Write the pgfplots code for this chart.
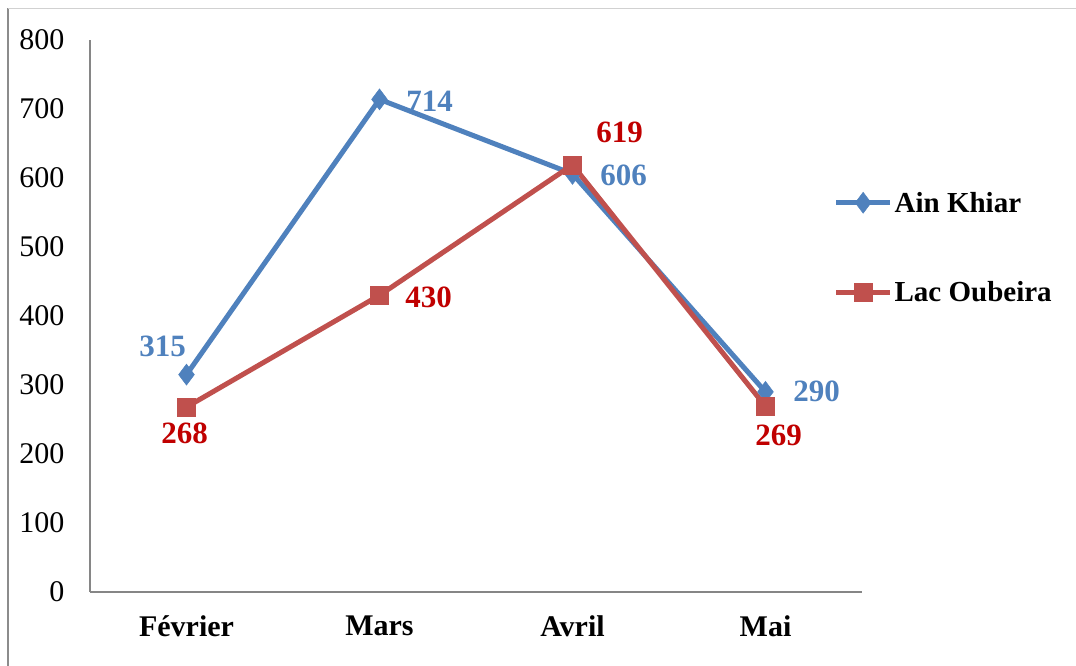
\documentclass[border=0pt]{standalone}
\usepackage{pgfplots}
\pgfplotsset{compat=1.18}
\usepackage{fontspec}
\setmainfont{Liberation Serif}
\definecolor{cblue}{HTML}{4F81BD}
\definecolor{cred}{HTML}{C0504D}
\definecolor{lred}{HTML}{C00000}
\definecolor{axgray}{HTML}{868686}
\begin{document}
\begin{tikzpicture}
\useasboundingbox (0pt,0pt) rectangle (1076pt,666pt);
\draw[color=black!45, line width=1.5pt] (8pt,0pt) -- (8pt,657.5pt);
\draw[color=black!18, line width=1pt] (8pt,657.5pt) -- (1076pt,657.5pt);
\begin{axis}[
  at={(90pt,74pt)}, anchor=south west,
  width=772pt, height=552pt, scale only axis,
  xmin=-0.5, xmax=3.5, ymin=0, ymax=800,
  axis lines=left,
  axis line style={color=axgray, line width=1.5pt, -},
  xtick={0,1,2,3},
  xticklabels={Février,Mars,Avril,Mai},
  ytick={0,100,...,800},
  major tick length=0pt,
  /pgf/number format/assume math mode=true,
  yticklabel style={font=\fontsize{30}{34}\selectfont, xshift=-22pt},
  xticklabel style={font=\fontsize{30}{34}\selectfont\bfseries, yshift=-20pt},
  clip=false,
  nodes near coords,
  visualization depends on={value \thisrow{dx} \as \dx},
  visualization depends on={value \thisrow{dy} \as \dy},
  nodes near coords style={anchor=center, xshift=\dx, yshift=\dy, font=\fontsize{31}{34}\selectfont\bfseries},
  legend style={at={(0.963,0.624)}, anchor=west, draw=none, fill=none,
    font=\fontsize{29}{33}\selectfont\bfseries, row sep=64pt, inner sep=0pt,
    legend cell align=left},
  legend image code/.code={\draw[mark repeat=2,mark phase=2,#1] plot coordinates {(0pt,0pt) (27pt,0pt) (54pt,0pt)};},
]
\addplot[color=cblue, line width=5pt, mark=diamond*, mark size=10.5pt,
  mark options={solid, line width=0.5pt, fill=cblue},
  nodes near coords style={text=cblue}]
  table[x=x, y=y, meta=y]{
x y dx dy
0 315 -24 28
1 714 50 -2
2 606 51 -1
3 290 51 1
};
\addlegendentry{Ain Khiar}
\addplot[color=cred, line width=5pt, mark=square*, mark size=9pt,
  mark options={solid, line width=0.5pt, fill=cred},
  nodes near coords style={text=lred}]
  table[x=x, y=y, meta=y]{
x y dx dy
0 268 -2 -26
1 430 49 -2
2 619 47 33
3 269 13 -29
};
\addlegendentry{Lac Oubeira}
\end{axis}
\end{tikzpicture}
\end{document}
